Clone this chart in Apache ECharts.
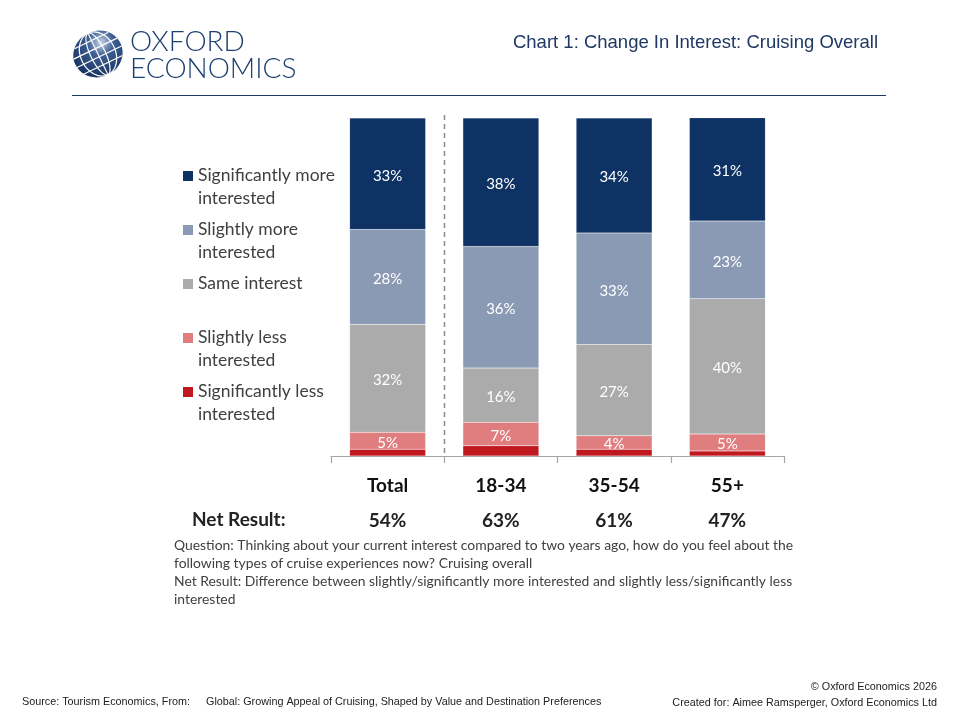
<!DOCTYPE html>
<html>
<head>
<meta charset="utf-8">
<script src="https://cdn.jsdelivr.net/npm/echarts@6/dist/echarts.min.js"></script>
<style>
  html, body { margin: 0; padding: 0; background: #fff; }
  #main { width: 960px; height: 720px; }
</style>
</head>
<body>
<div id="main"></div>
<script>
// categories and values (percent of respondents)
var groups = ['Total', '18-34', '35-54', '55+'];
var netResult = ['54%', '63%', '61%', '47%'];
var seriesNames = [
  'Significantly more interested',
  'Slightly more interested',
  'Same interest',
  'Slightly less interested',
  'Significantly less interested'
];
var legendLines = [
  'Significantly more\ninterested',
  'Slightly more\ninterested',
  'Same interest',
  'Slightly less\ninterested',
  'Significantly less\ninterested'
];
var sigMore = [33, 38, 34, 31];
var slMore = [28, 36, 33, 23];
var same = [32, 16, 27, 40];
var slLess = [5, 7, 4, 5];
var sigLess = [2, 3, 2, 1.5];
var colors = ['#0f3265', '#8a9ab5', '#ababab', '#e07e7f', '#c0181f'];

var seriesData = [sigLess, slLess, same, slMore, sigMore];
var seriesOrder = [4, 3, 2, 1, 0];   // stack from the bottom up

var font = 'Lato, "Noto Sans", sans-serif';
var arial = '"Liberation Sans", Arial, sans-serif';

var series = [];
for (var i = 0; i < seriesOrder.length; i++) {
  var k = seriesOrder[i];
  series.push({
    name: seriesNames[k],
    type: 'bar',
    stack: 'all',
    barWidth: 76,
    data: seriesData[i],
    itemStyle: { color: colors[k], borderColor: 'rgba(255,255,255,0.25)', borderWidth: 0.5 },
    label: {
      show: k !== 4,
      position: 'inside',
      color: '#fff',
      fontSize: 15,
      fontFamily: font,
      offset: [0, 2],
      formatter: '{c}%'
    },
    emphasis: { disabled: true }
  });
}

// logo globe (decoration)
var globe = [{ type: 'ellipse', shape: { cx: 0, cy: 0, rx: 25, ry: 23 },
  style: { fill: new echarts.graphic.RadialGradient(0.65, 0.3, 0.8, [
    { offset: 0, color: '#c9d6e8' }, { offset: 0.35, color: '#3d5f92' }, { offset: 1, color: '#142f5c' }]) } }];
[-15, -6, 3, 12].forEach(function (y) {
  var hw = 25 * Math.sqrt(1 - (y / 23) * (y / 23));
  globe.push({ type: 'line', shape: { x1: -hw, y1: y, x2: hw, y2: y },
    style: { stroke: '#fff', lineWidth: 1.2 } });
});
[0.3, 0.7].forEach(function (f) {
  globe.push({ type: 'ellipse', shape: { cx: 0, cy: 0, rx: 25 * f, ry: 23 },
    style: { fill: 'none', stroke: '#fff', lineWidth: 1.2 } });
});
globe.push({ type: 'line', shape: { x1: 0, y1: -23, x2: 0, y2: 23 }, style: { stroke: '#fff', lineWidth: 1.2 } });

var graphics = [
  { type: 'group', x: 98, y: 54, rotation: 0.45, children: globe },
  { type: 'text', left: 130, top: 28, style: { text: 'OXFORD', font: '300 28px ' + font, fill: '#1d3f70' } },
  { type: 'text', left: 130, top: 55, style: { text: 'ECONOMICS', font: '300 28px ' + font, fill: '#1d3f70' } },
  { type: 'text', right: 82, top: 33, style: { text: 'Chart 1: Change In Interest: Cruising Overall',
    font: '18.5px ' + arial, fill: '#1f3864' } },
  { type: 'line', shape: { x1: 72, y1: 95.5, x2: 886, y2: 95.5 }, style: { stroke: '#1f3864', lineWidth: 1 } },
  { type: 'text', left: 192, top: 510, style: { text: 'Net Result:', font: 'bold 19px ' + font, fill: '#222' } },
  { type: 'text', left: 174, top: 537, style: {
    text: 'Question: Thinking about your current interest compared to two years ago, how do you feel about the\n' +
      'following types of cruise experiences now? Cruising overall\n' +
      'Net Result: Difference between slightly/significantly more interested and slightly less/significantly less\n' +
      'interested',
    font: '13.9px ' + font, fill: '#404040', lineHeight: 18 } },
  { type: 'text', left: 22, top: 697, style: { text: 'Source: Tourism Economics, From:',
    font: '10.8px ' + arial, fill: '#222' } },
  { type: 'text', left: 206, top: 697, style: { text: 'Global: Growing Appeal of Cruising, Shaped by Value and Destination Preferences',
    font: '10.8px ' + arial, fill: '#222' } },
  { type: 'text', right: 23, top: 682, style: { text: '\u00a9 Oxford Economics 2026', align: 'right',
    font: '10.8px ' + arial, fill: '#222' } },
  { type: 'text', right: 23, top: 698, style: { text: 'Created for: Aimee Ramsperger, Oxford Economics Ltd', align: 'right',
    font: '10.8px ' + arial, fill: '#222' } }
];

// legend built from the series names and colours
for (var j = 0; j < legendLines.length; j++) {
  var y0 = 176 + j * 54;
  graphics.push({ type: 'rect', shape: { x: 183, y: y0 - 5, width: 10, height: 10 }, style: { fill: colors[j] } });
  graphics.push({ type: 'text', left: 198, top: y0 - 12, style: {
    text: legendLines[j], font: '17.5px ' + font, fill: '#404040', lineHeight: 23 } });
}

var myChart = echarts.init(document.getElementById('main'));
var option = {
  animation: false,
  grid: { left: 331, right: 176, top: 118, bottom: 264, containLabel: false },
  xAxis: [{
    type: 'category',
    data: groups,
    axisLine: { lineStyle: { color: '#a6a6a6', width: 1.2 } },
    axisTick: { show: true, length: 7, lineStyle: { color: '#a6a6a6', width: 1.2 } },
    axisLabel: { color: '#111', fontSize: 19, fontWeight: 'bold', fontFamily: font, margin: 20 }
  }, {
    type: 'category',
    data: netResult,
    position: 'bottom',
    offset: 35,
    axisLine: { show: false },
    axisTick: { show: false },
    axisLabel: { color: '#222', fontSize: 19, fontWeight: 'bold', fontFamily: font, margin: 20 }
  }],
  yAxis: { type: 'value', min: 0, max: 100, show: false, splitLine: { show: false } },
  series: series,
  graphic: graphics
};
myChart.setOption(option);

// dashed divider between Total and the age groups, placed on the category boundary
var xa = myChart.convertToPixel({ xAxisIndex: 0 }, groups[0]);
var xb = myChart.convertToPixel({ xAxisIndex: 0 }, groups[1]);
var yTop = myChart.convertToPixel({ yAxisIndex: 0 }, 100);
var yBot = myChart.convertToPixel({ yAxisIndex: 0 }, 0);
var xd = Math.round((xa + xb) / 2) + 0.5;
graphics.push({ type: 'line', z: 10, shape: { x1: xd, y1: yTop - 3, x2: xd, y2: yBot },
  style: { stroke: '#8c8c8c', lineWidth: 1.5, lineDash: [5, 4] } });
myChart.setOption({ graphic: graphics });
</script>
</body>
</html>
